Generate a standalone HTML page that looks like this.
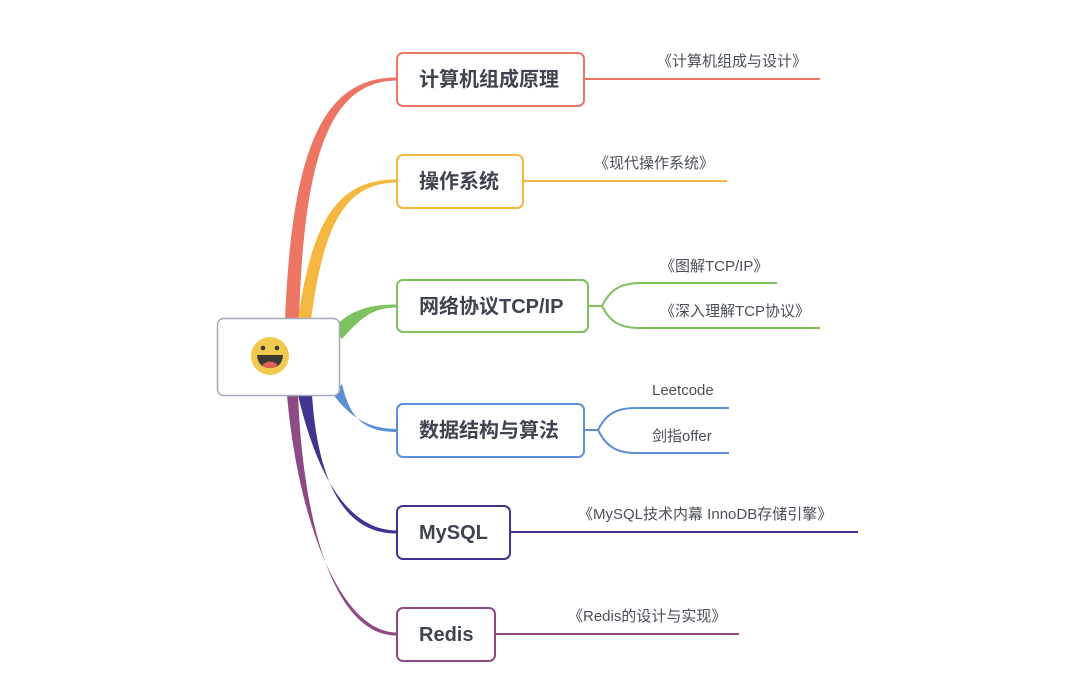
<!DOCTYPE html>
<html><head><meta charset="utf-8"><style>
html,body{margin:0;padding:0;background:#fff;}
svg text{font-family:"Liberation Sans","Noto Sans CJK SC",sans-serif;}
.n{font-size:20px;font-weight:bold;fill:#3d4450;}
.s{font-size:15px;fill:#4a4f57;}
</style></head><body>
<svg width="1080" height="692" viewBox="0 0 1080 692" xmlns="http://www.w3.org/2000/svg">
<!-- branches -->
<path d="M285,320 C292,150 322,77 397,77.5 L397,80.5 C332,81 304,150 299,320 Z" fill="#ec7563"/>
<path d="M298,320 C312,220 338,179 397,179.5 L397,182.5 C346,183 324,222 311,320 Z" fill="#f4b740"/>
<path d="M333,328 C352,309 370,304.5 397,304.5 L397,307.5 C374,307.5 362,316 342,339 Z" fill="#7fc05f"/>
<path d="M333,394 C350,418 370,429 397,429 L397,432 C366,432 350,420 342,384 Z" fill="#5b8fd6"/>
<path d="M298,395 C318,480 350,530.5 397,530.5 L397,533.5 C344,534 318,482 312,395 Z" fill="#3f3590"/>
<path d="M287,395 C298,520 340,632.5 397,632.5 L397,635.5 C334,636 303,522 298,395 Z" fill="#8e4a84"/>
<!-- center -->
<rect x="217.5" y="318.5" width="122" height="77" rx="6" fill="#fff" stroke="#a3abbb" stroke-width="1.5"/>
<circle cx="270" cy="356" r="19" fill="#f0c94e"/>
<circle cx="263" cy="348" r="2.3" fill="#3d3a33"/>
<circle cx="277" cy="348" r="2.3" fill="#3d3a33"/>
<path d="M257,355 L283,355 Q282,368 270,368 Q258,368 257,355 Z" fill="#3d3a33"/>
<path d="M262,365 Q270,358 278,365 Q274,368 270,368 Q265,368 262,365 Z" fill="#e0605a"/>
<!-- nodes -->
<g fill="#fff" stroke-width="2">
<rect x="397" y="53" width="187" height="53" rx="6" stroke="#ec7563"/>
<rect x="397" y="155" width="126" height="53" rx="6" stroke="#f4b740"/>
<rect x="397" y="280" width="191" height="52" rx="6" stroke="#7fc05f"/>
<rect x="397" y="404" width="187" height="53" rx="6" stroke="#5b8fd6"/>
<rect x="397" y="506" width="113" height="53" rx="6" stroke="#3f3590"/>
<rect x="397" y="608" width="98" height="53" rx="6" stroke="#8e4a84"/>
</g>
<text class="n" x="419" y="86">计算机组成原理</text>
<text class="n" x="419" y="188">操作系统</text>
<text class="n" x="419" y="313">网络协议TCP/IP</text>
<text class="n" x="419" y="437">数据结构与算法</text>
<text class="n" x="419" y="539">MySQL</text>
<text class="n" x="419" y="641">Redis</text>
<!-- sub lines -->
<g fill="none" stroke-width="2">
<path d="M584,79 L820,79" stroke="#ec7563"/>
<path d="M523,181 L727,181" stroke="#f4b740"/>
<path d="M588,306 L602,306 C610,290 620,283 640,283 L777,283 M602,306 C610,322 620,328 640,328 L820,328" stroke="#7fc05f"/>
<path d="M584,430 L598,430 C606,414 616,408 636,408 L729,408 M598,430 C606,446 616,453 636,453 L729,453" stroke="#5b8fd6"/>
<path d="M510,532 L858,532" stroke="#3f3590"/>
<path d="M495,634 L739,634" stroke="#8e4a84"/>
</g>
<text class="s" x="657" y="66">《计算机组成与设计》</text>
<text class="s" x="594" y="168">《现代操作系统》</text>
<text class="s" x="660" y="271">《图解TCP/IP》</text>
<text class="s" x="660" y="316">《深入理解TCP协议》</text>
<text class="s" x="652" y="395">Leetcode</text>
<text class="s" x="652" y="441">剑指offer</text>
<text class="s" x="578" y="519">《MySQL技术内幕 InnoDB存储引擎》</text>
<text class="s" x="568" y="621">《Redis的设计与实现》</text>
</svg>
</body></html>
